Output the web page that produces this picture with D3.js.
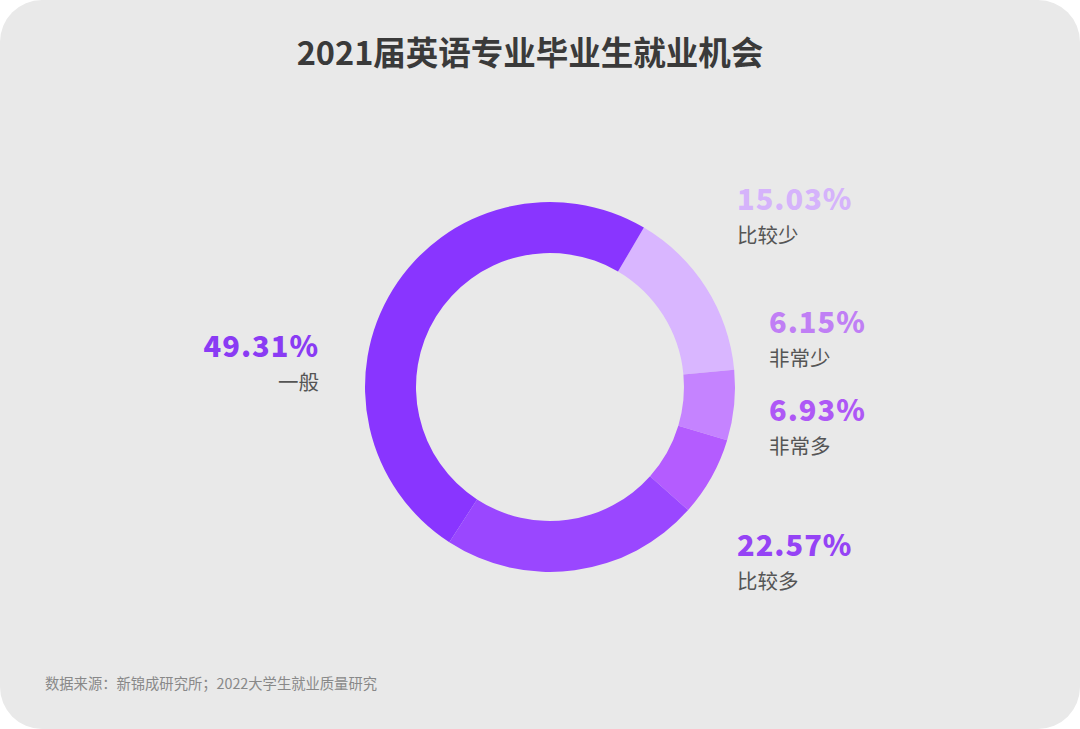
<!DOCTYPE html>
<html>
<head>
<meta charset="utf-8">
<script src="https://cdn.jsdelivr.net/npm/d3@7"></script>
<style>
  html, body { margin: 0; padding: 0; background: #fff; }
  svg { display: block; }
</style>
</head>
<body>
<div id="chart"></div>
<script>
// data, clockwise from the top right
var categories = ["比较少", "非常少", "非常多", "比较多", "一般"];
var values = [15.03, 6.15, 6.93, 22.57, 49.31];
var labels = ["15.03%", "6.15%", "6.93%", "22.57%", "49.31%"];

var sliceColors = ["#d9b6ff", "#c583ff", "#b45cff", "#9a47ff", "#8935ff"];
var labelColors = ["#d5b3fb", "#c07ff5", "#ae58f6", "#9543f5", "#8a3bf4"];

var width = 1080, height = 729;
var cx = 550, cy = 387, outerR = 185, innerR = 134;

var svg = d3.select("#chart").append("svg")
    .attr("width", width)
    .attr("height", height);

// card background
svg.append("rect")
    .attr("x", 0).attr("y", 0)
    .attr("width", width).attr("height", height)
    .attr("rx", 42).attr("ry", 42)
    .style("fill", "#e9e9e9");

svg.append("text")
    .attr("x", 530).attr("y", 65)
    .attr("text-anchor", "middle")
    .style("font-family", "'Noto Sans CJK SC', sans-serif")
    .style("font-weight", 700)
    .style("font-size", "32.5px")
    .style("fill", "#3a3a3a")
    .text("2021届英语专业毕业生就业机会");

var pie = d3.pie()
    .sort(null)
    .value(function(d) { return d; })
    .startAngle(30.5 * Math.PI / 180)
    .endAngle(30.5 * Math.PI / 180 + 2 * Math.PI);

var arc = d3.arc().innerRadius(innerR).outerRadius(outerR);

var g = svg.append("g").attr("transform", "translate(" + cx + "," + cy + ")");
g.selectAll("path")
    .data(pie(values))
    .enter().append("path")
    .attr("d", arc)
    .style("fill", function(d, i) { return sliceColors[i]; });

// label anchor points (designer placed)
var labelPos = [
    {x: 737, y: 210, anchor: "start"},
    {x: 769, y: 333, anchor: "start"},
    {x: 769, y: 421, anchor: "start"},
    {x: 737, y: 556, anchor: "start"},
    {x: 319, y: 357, anchor: "end"}
];

var lab = svg.selectAll(".lab")
    .data(categories)
    .enter().append("g")
    .attr("class", "lab");

lab.append("text")
    .attr("x", function(d, i) { return labelPos[i].x; })
    .attr("y", function(d, i) { return labelPos[i].y; })
    .attr("text-anchor", function(d, i) { return labelPos[i].anchor; })
    .style("font-family", "'Noto Sans CJK SC', sans-serif")
    .style("font-weight", 900)
    .style("font-size", "29px")
    .style("letter-spacing", "1px")
    .style("fill", function(d, i) { return labelColors[i]; })
    .text(function(d, i) { return labels[i]; });

lab.append("text")
    .attr("x", function(d, i) { return labelPos[i].x; })
    .attr("y", function(d, i) { return labelPos[i].y + 33; })
    .attr("text-anchor", function(d, i) { return labelPos[i].anchor; })
    .style("font-family", "'Noto Sans CJK SC', sans-serif")
    .style("font-size", "20.5px")
    .style("fill", "#555")
    .text(function(d) { return d; });

svg.append("text")
    .attr("x", 45).attr("y", 689)
    .style("font-family", "'Noto Sans CJK SC', sans-serif")
    .style("font-size", "14.3px")
    .style("fill", "#888")
    .text("数据来源：新锦成研究所；2022大学生就业质量研究");
</script>
</body>
</html>
